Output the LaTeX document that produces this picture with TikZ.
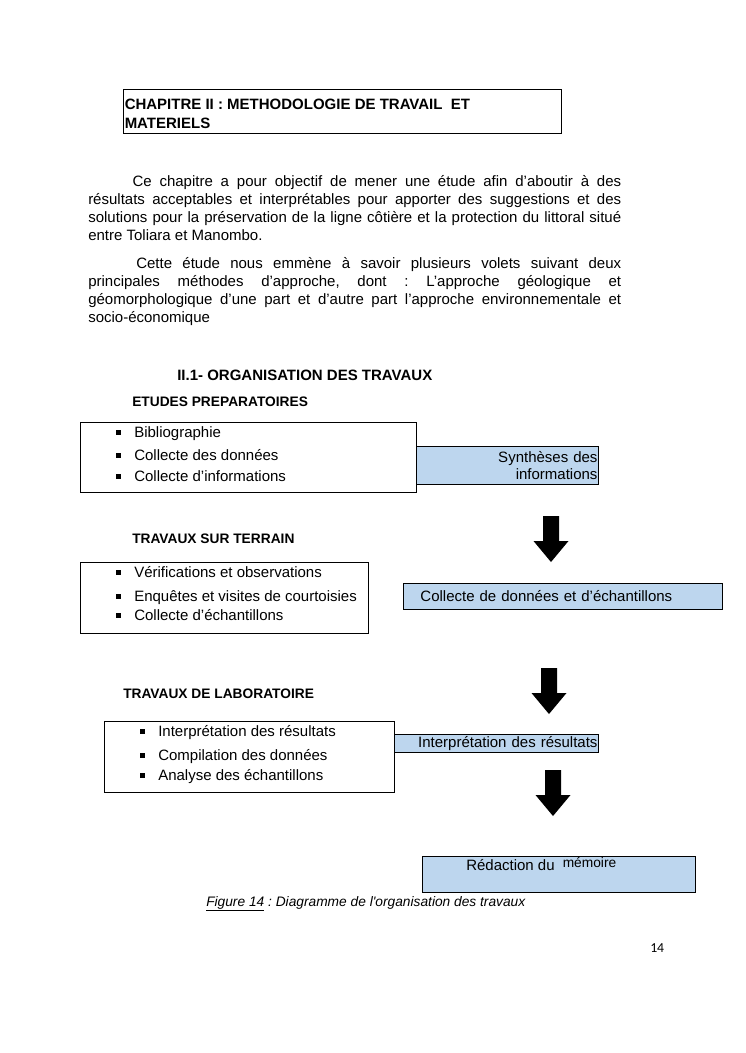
\documentclass[tikz,border=0pt]{standalone}
\usepackage{fontspec}
\setmainfont{Liberation Sans}
\newfontfamily\calibri{Carlito}
\definecolor{bleuclair}{RGB}{189,214,238}
\frenchspacing
\newcommand{\pix}{0.8pt}
\newcommand{\carre}{\rule[1.8pt]{3.6pt}{3.6pt}\hspace{10.8pt}}
\newcommand{\fleche}[2]{\fill (#1,#2) ++(-8,0) --++ (16,0) --++ (0,25) --++ (9.5,0) --++ (-17.5,21) --++ (-17.5,-21) --++ (9.5,0) -- cycle}
\newcommand{\puce}[4]{\node[item] (#1) at (#2,#3) {\carre #4}}

\begin{document}
\begin{tikzpicture}[x=0.8pt,y=-0.8pt,
	cadre/.style={draw, line width=0.75pt, inner sep=0, anchor=north west},
	bleu/.style={cadre, fill=bleuclair, font=\fontsize{12}{13.6}\selectfont},
	item/.style={anchor=base west, inner sep=0, font=\fontsize{12}{14}\selectfont},
	titre/.style={anchor=base west, inner sep=0, align=left, font=\bfseries\fontsize{12}{15.2}\selectfont},
	rubrique/.style={anchor=base west, inner sep=0, font=\bfseries\fontsize{11}{13}\selectfont},
	para/.style={anchor=base west, inner sep=0, text width=426.4pt, align=justify, font=\fontsize{12}{14.6}\selectfont}]
	\useasboundingbox (0,0) rectangle (745,1053);
	\node[cadre, minimum width=438*\pix, minimum height=44*\pix] (chapitre) at (123,89) {};
	\node[titre] (chapitreTxt) at (124.5,128) {CHAPITRE II : METHODOLOGIE DE TRAVAIL\ \ ET\\MATERIELS};
	\node[para] (intro) at (88,186) {\hspace*{35.4pt}Ce chapitre a pour objectif de mener une étude afin d’aboutir à des\linebreak résultats acceptables et interprétables pour apporter des suggestions et des\linebreak solutions pour la préservation de la ligne côtière et la protection du littoral situé\linebreak entre Toliara et Manombo.};
	\node[para] (methodes) at (88,268) {\hspace*{38.4pt}Cette étude nous emmène à savoir plusieurs volets suivant deux\linebreak principales méthodes d’approche, dont : L’approche géologique et\linebreak géomorphologique d’une part et d’autre part l’approche environnementale et\linebreak socio-économique};
	\node[titre] (organisation) at (177,380) {II.1- ORGANISATION DES TRAVAUX};

	\node[rubrique] (etudes) at (132,406.5) {ETUDES PREPARATOIRES};
	\node[cadre, minimum width=336*\pix, minimum height=70*\pix] (prep) at (80,422) {};
	\puce{biblio}{116}{437}{Bibliographie};
	\puce{donnees}{116}{460}{Collecte des données};
	\puce{infos}{116}{481}{Collecte d’informations};
	\node[bleu, minimum width=182*\pix, minimum height=38*\pix, text width=180*\pix, align=right] (synthese) at (416,446) {Synthèses des\\informations};
	\fleche{551}{516};

	\node[rubrique] (terrain) at (132,543.5) {TRAVAUX SUR TERRAIN};
	\node[cadre, minimum width=288*\pix, minimum height=71*\pix] (terr) at (80,562) {};
	\puce{verif}{116}{577}{Vérifications et observations};
	\puce{enquetes}{116}{601}{Enquêtes et visites de courtoisies};
	\puce{echant}{116}{620}{Collecte d’échantillons};
	\node[bleu, minimum width=319*\pix, minimum height=26*\pix, text width=285*\pix, align=left] (collecte) at (403,583) {Collecte de données et d’échantillons};
	\fleche{549}{668};

	\node[rubrique] (labo) at (123,698.5) {TRAVAUX DE LABORATOIRE};
	\node[cadre, minimum width=290*\pix, minimum height=71*\pix] (lab) at (104,721) {};
	\puce{interp}{140}{736}{Interprétation des résultats};
	\puce{compil}{140}{760}{Compilation des données};
	\puce{analyse}{140}{780}{Analyse des échantillons};
	\node[bleu, minimum width=204*\pix, minimum height=18*\pix, text width=202*\pix, align=right] (resultats) at (394,734) {Interprétation des résultats};
	\fleche{553}{770};

	\node[bleu, minimum width=273*\pix, minimum height=36*\pix] (redaction) at (422,856) {};
	\node[item] (redactionTxt) at (466,870) {Rédaction du\hspace{6.5pt}\raisebox{2pt}{\fontsize{11}{13}\selectfont mémoire}};

	\node[item, font=\itshape\fontsize{11}{13}\selectfont] (legende) at (206,906) {\underline{Figure 14} : Diagramme de l\textquotesingle organisation des travaux};
	\node[item, font=\calibri\fontsize{11}{13}\selectfont] (page) at (650,952) {14};
\end{tikzpicture}
\end{document}
